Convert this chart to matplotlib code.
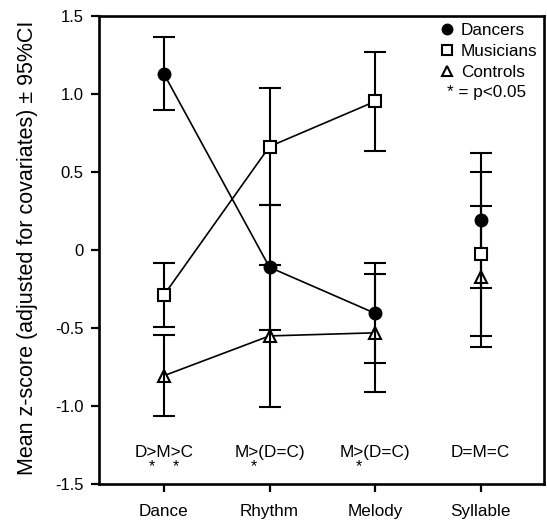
import matplotlib
matplotlib.use("Agg")
import matplotlib.pyplot as plt
from matplotlib.lines import Line2D

plt.rcParams['font.family'] = ['Liberation Sans', 'DejaVu Sans']

categories = ['Dance', 'Rhythm', 'Melody', 'Syllable']
dancers_mean = [1.13, -0.11, -0.405, 0.19]
dancers_ci = [0.235, 0.40, 0.32, 0.43]
musicians_mean = [-0.288, 0.664, 0.953, -0.025]
musicians_ci = [0.208, 0.374, 0.318, 0.525]
controls_mean = [-0.805, -0.55, -0.53, -0.17]
controls_ci = [0.26, 0.454, 0.38, 0.45]

contrast_labels = ['D>M>C', 'M>(D=C)', 'M>(D=C)', 'D=M=C']
# which '>' characters (by order of occurrence) are significant
significant_gt = [[0, 1], [0], [0], []]

yticks = [-1.5, -1.0, -0.5, 0, 0.5, 1.0, 1.5]
ytick_labels = ['-1.5', '-1.0', '-0.5', '0', '0.5', '1.0', '1.5']

FS = 12.3

fig = plt.figure(figsize=(5.47, 5.20), dpi=100)
ax = fig.add_axes([0.181, 0.069, 0.8135, 0.90])

x = list(range(1, len(categories) + 1))
n_line = 3  # lines connect the first three tasks

groups = [
    ('Dancers', dancers_mean, dancers_ci, dict(marker='o', mfc='black', mec='black', ms=9), 5),
    ('Musicians', musicians_mean, musicians_ci, dict(marker='s', mfc='white', mec='black', ms=8, mew=1.5), 5),
    ('Controls', controls_mean, controls_ci, dict(marker='^', mfc='white', mec='black', ms=8.5, mew=1.5), 2.5),
]

for name, m, ci, mstyle, mz in groups:
    ax.plot(x[:n_line], m[:n_line], color='black', lw=1.2, zorder=2)
    ax.errorbar(x, m, yerr=ci, fmt='none', ecolor='black', elinewidth=1.5,
                capsize=8, capthick=1.5, zorder=3)
    ax.plot(x, m, linestyle='none', zorder=mz, **mstyle)

ax.set_xlim(0.385, 4.6)
ax.set_ylim(-1.5, 1.5)
ax.set_xticks(x)
ax.set_xticklabels(categories, fontsize=FS)
ax.set_yticks(yticks)
ax.set_yticklabels(ytick_labels, fontsize=12)
ax.tick_params(axis='both', direction='out', length=6, width=1.6, color='black')
ax.tick_params(axis='x', pad=8)
ax.tick_params(axis='y', pad=5)
for sp in ax.spines.values():
    sp.set_linewidth(1.9)

ax.set_ylabel('Mean z-score (adjusted for covariates) \u00b1 95%CI', fontsize=15.5)
ax.yaxis.set_label_coords(-0.137, 0.505)

# contrast annotations with asterisks under the significant '>' signs
fig.canvas.draw()
renderer = fig.canvas.get_renderer()
text_y = -1.30
star_y = -1.39
for xi, lab, sig in zip(x, contrast_labels, significant_gt):
    t = ax.text(xi, text_y, lab, ha='center', va='center', fontsize=FS)
    if not sig:
        continue
    bb = t.get_window_extent(renderer)
    gt_pos = [i for i, c in enumerate(lab) if c == '>']
    for k in sig:
        i = gt_pos[k]
        t_pre = ax.text(0, 0, lab[:i], fontsize=FS)
        t_gt = ax.text(0, 0, lab[:i + 1], fontsize=FS)
        w_pre = t_pre.get_window_extent(renderer).width if i > 0 else 0
        w_gt = t_gt.get_window_extent(renderer).width
        t_pre.remove(); t_gt.remove()
        xc_pix = bb.x0 + (w_pre + w_gt) / 2
        xd = ax.transData.inverted().transform((xc_pix, 0))[0]
        ax.text(xd, star_y, '*', ha='center', va='center', fontsize=11.5)

handles = [
    Line2D([], [], linestyle='none', marker='o', mfc='black', mec='black', ms=7.5),
    Line2D([], [], linestyle='none', marker='s', mfc='white', mec='black', ms=6.5, mew=1.5),
    Line2D([], [], linestyle='none', marker='^', mfc='white', mec='black', ms=7, mew=1.5),
]
leg = ax.legend(handles, ['Dancers', 'Musicians', 'Controls'], loc='upper left',
                bbox_to_anchor=(0.758, 0.992), frameon=False, fontsize=FS,
                handlelength=0.8, handletextpad=0.45, labelspacing=0.33,
                borderaxespad=0.0, borderpad=0.2)
ax.text(0.782, 0.8376, '* = p<0.05', transform=ax.transAxes, ha='left', va='center', fontsize=FS)

fig.savefig('out.png', dpi=100)
